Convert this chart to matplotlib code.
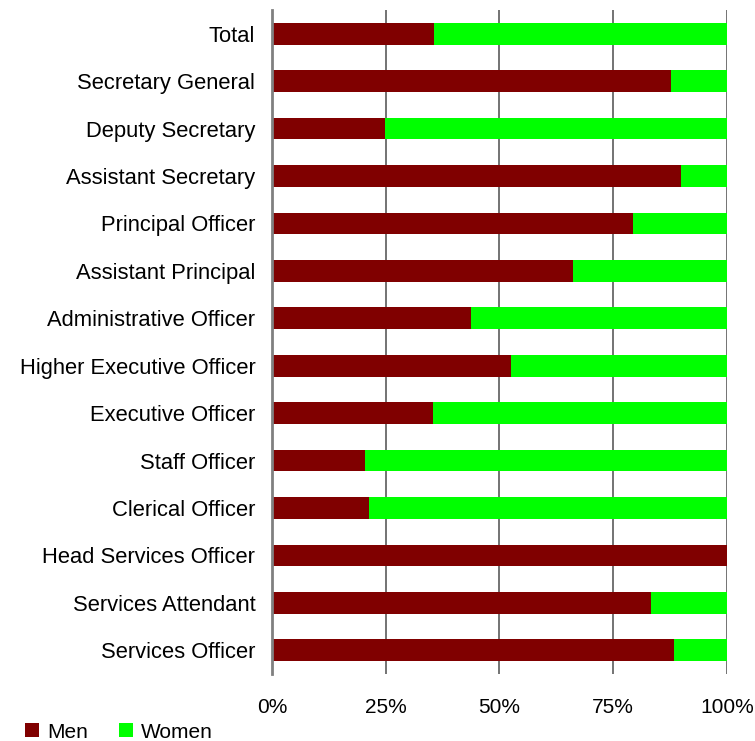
import matplotlib
matplotlib.use("Agg")
import matplotlib.pyplot as plt
from matplotlib.patches import Patch
import numpy as np

plt.rcParams['font.family'] = ['Liberation Sans', 'DejaVu Sans']

grades = [
    "Total",
    "Secretary General",
    "Deputy Secretary",
    "Assistant Secretary",
    "Principal Officer",
    "Assistant Principal",
    "Administrative Officer",
    "Higher Executive Officer",
    "Executive Officer",
    "Staff Officer",
    "Clerical Officer",
    "Head Services Officer",
    "Services Attendant",
    "Services Officer",
]
men_pct = [35.5, 87.8, 24.9, 90.0, 79.4, 66.2, 43.8, 52.6, 35.4, 20.4, 21.3, 100.0, 83.4, 88.3]
women_pct = [100 - m for m in men_pct]

men_color = "#800000"
women_color = "#00FF00"

fig = plt.figure(figsize=(7.55, 7.41), dpi=100)
ax = fig.add_axes([272 / 755, 1 - 674 / 741, 455 / 755, 664 / 741])

y = np.arange(len(grades))
bar_h = 0.46
ax.barh(y, men_pct, height=bar_h, color=men_color, zorder=3)
ax.barh(y, women_pct, left=men_pct, height=bar_h, color=women_color, zorder=3)

ax.set_xlim(0, 100)
ax.set_ylim(len(grades) - 0.5, -0.5)
ax.set_yticks(y)
ax.set_yticklabels(grades, fontsize=15.8)
ax.set_xticks([0, 25, 50, 75, 100])
ax.set_xticklabels(["0%", "25%", "50%", "75%", "100%"], fontsize=15)

ax.tick_params(axis='y', length=0, pad=12)
ax.tick_params(axis='x', length=0, pad=17)
ax.xaxis.grid(True, color="#4d4d4d", linewidth=1.1, zorder=0)

for side in ("top", "right", "bottom"):
    ax.spines[side].set_visible(False)
ax.spines["left"].set_color("#808080")
ax.spines["left"].set_linewidth(2)
ax.spines["left"].set_zorder(4)

handles = [Patch(facecolor=men_color, label="Men"), Patch(facecolor=women_color, label="Women")]
fig.legend(handles=handles, loc="center left", bbox_to_anchor=(25 / 755, 9 / 741),
           ncol=2, frameon=False, fontsize=15, borderpad=0, borderaxespad=0,
           handlelength=0.67, handleheight=0.67, handletextpad=0.38,
           columnspacing=1.5)

fig.savefig("out.png", dpi=100)
